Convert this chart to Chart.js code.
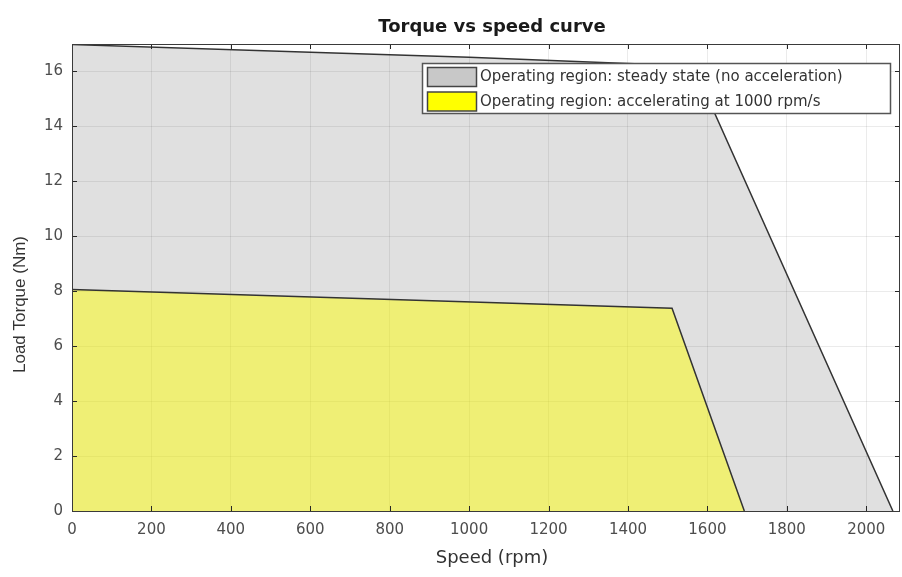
<!DOCTYPE html>
<html>
<head>
<meta charset="utf-8">
<script src="https://cdn.jsdelivr.net/npm/chart.js@4"></script>
<style>
  html, body { margin: 0; padding: 0; background: #ffffff; }
  #wrap { width: 902px; height: 577px; }
</style>
</head>
<body>
<div id="wrap"><canvas id="chart" width="902" height="577"></canvas></div>
<script>
// ----------------------
// DATA
// ----------------------
const speedSteady = [0, 600, 1000, 1350, 1565, 2067];
const torqueSteady = [16.98, 16.7, 16.52, 16.32, 16.2, 0];

const speedAccel = [0, 1511, 1693];
const torqueAccel = [8.06, 7.38, 0];

const speedTicks = [0, 200, 400, 600, 800, 1000, 1200, 1400, 1600, 1800, 2000];
const torqueTicks = [0, 2, 4, 6, 8, 10, 12, 14, 16];

const legendLabels = [
  "Operating region: steady state (no acceleration)",
  "Operating region: accelerating at 1000 rpm/s",
];

const toPoints = (xs, ys) => xs.map((x, i) => ({ x: x, y: ys[i] }));

// ----------------------
// FRAME, TITLES, LEGEND
// ----------------------
const matlabLook = {
  id: "matlabLook",
  afterDraw(chart) {
    const { ctx, chartArea: a, scales } = chart;
    ctx.save();

    // inward ticks
    ctx.strokeStyle = "#262626";
    ctx.lineWidth = 1;
    ctx.beginPath();
    speedTicks.forEach((v) => {
      const px = Math.round(scales.x.getPixelForValue(v)) + 0.5;
      ctx.moveTo(px, a.bottom); ctx.lineTo(px, a.bottom - 5);
      ctx.moveTo(px, a.top); ctx.lineTo(px, a.top + 5);
    });
    torqueTicks.forEach((v) => {
      const py = Math.round(scales.y.getPixelForValue(v)) + 0.5;
      ctx.moveTo(a.left, py); ctx.lineTo(a.left + 5, py);
      ctx.moveTo(a.right, py); ctx.lineTo(a.right - 5, py);
    });
    ctx.stroke();

    // box
    ctx.strokeStyle = "#3a3a3a";
    ctx.strokeRect(a.left + 0.5, a.top + 0.5, a.right - a.left - 1, a.bottom - a.top);

    // titles
    const cx = (a.left + a.right) / 2 + 6;
    ctx.fillStyle = "#1a1a1a";
    ctx.textAlign = "center";
    ctx.textBaseline = "middle";
    ctx.font = "bold 18px 'DejaVu Sans'";
    ctx.fillText("Torque vs speed curve", cx, 27);

    ctx.fillStyle = "#333333";
    ctx.font = "18px 'DejaVu Sans'";
    ctx.fillText("Speed (rpm)", cx, a.bottom + 47);

    ctx.save();
    ctx.translate(20, (a.top + a.bottom) / 2 + 27);
    ctx.rotate(-Math.PI / 2);
    ctx.font = "17px 'Liberation Sans'";
    ctx.fillText("Load Torque (Nm)", 0, 0);
    ctx.restore();

    // legend
    const lx = 422.5, ly = 63.5, lw = 468, lh = 50;
    ctx.fillStyle = "#ffffff";
    ctx.fillRect(lx, ly, lw, lh);
    ctx.strokeStyle = "#555555";
    ctx.lineWidth = 1.5;
    ctx.strokeRect(lx, ly, lw, lh);
    const swatches = ["#c8c8c8", "#ffff00"];
    ctx.font = "15px 'DejaVu Sans'";
    ctx.textAlign = "left";
    legendLabels.forEach((label, i) => {
      const sy = 67.5 + i * 24.5;
      ctx.fillStyle = swatches[i];
      ctx.fillRect(427.5, sy, 49, 19);
      ctx.strokeStyle = "#444444";
      ctx.lineWidth = 1.5;
      ctx.strokeRect(427.5, sy, 49, 19);
      ctx.fillStyle = "#333333";
      ctx.fillText(label, 480, sy + 10);
    });

    ctx.restore();
  },
};

// ----------------------
// CHART
// ----------------------
new Chart(document.getElementById("chart"), {
  type: "line",
  data: {
    datasets: [
      {
        label: legendLabels[1],
        data: toPoints(speedAccel, torqueAccel),
        borderColor: "#333333",
        borderWidth: 1.5,
        backgroundColor: "rgba(255, 255, 0, 0.48)",
        fill: "origin",
        pointRadius: 0,
        tension: 0,
        order: 1,
      },
      {
        label: legendLabels[0],
        data: toPoints(speedSteady, torqueSteady),
        borderColor: "#333333",
        borderWidth: 1.5,
        backgroundColor: "rgba(0, 0, 0, 0.12)",
        fill: "origin",
        pointRadius: 0,
        tension: 0,
        order: 2,
      },
    ],
  },
  options: {
    responsive: false,
    animation: false,
    layout: { padding: { top: 44, left: 0, right: 2, bottom: 0 } },
    plugins: {
      legend: { display: false },
      title: { display: false },
      tooltip: { enabled: false },
    },
    scales: {
      x: {
        type: "linear",
        min: 0,
        max: 2085,
        afterBuildTicks: (s) => { s.ticks = speedTicks.map((v) => ({ value: v })); },
        afterFit: (s) => { s.height = 66; },
        grid: { color: "rgba(0, 0, 0, 0.08)", drawTicks: false },
        border: { display: false },
        ticks: {
          padding: 10, maxRotation: 0, color: "#4d4d4d",
          font: { family: "'DejaVu Sans'", size: 15 },
          callback: (v) => String(v),
        },
      },
      y: {
        type: "linear",
        min: 0,
        max: 17,
        afterBuildTicks: (s) => { s.ticks = torqueTicks.map((v) => ({ value: v })); },
        afterFit: (s) => { s.width = 72; },
        grid: { color: "rgba(0, 0, 0, 0.08)", drawTicks: false },
        border: { display: false },
        ticks: {
          padding: 9, color: "#4d4d4d",
          font: { family: "'DejaVu Sans'", size: 15 },
          callback: (v) => String(v),
        },
      },
    },
  },
  plugins: [matlabLook],
});
</script>
</body>
</html>
